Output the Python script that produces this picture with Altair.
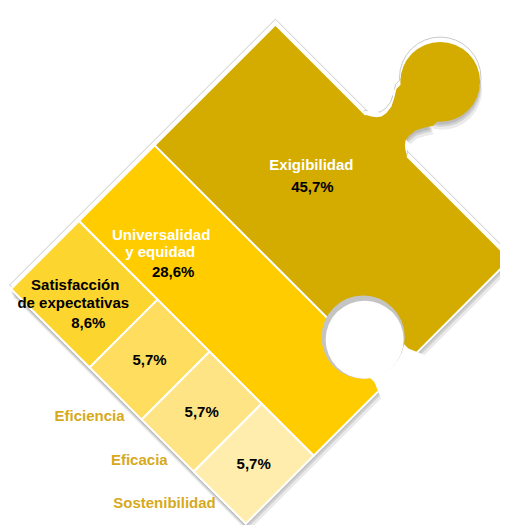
import math
import altair as alt
import pandas as pd

# ---------------- data ----------------
categories = ["Exigibilidad", "Universalidad y equidad", "Satisfacción de expectativas",
              "Eficiencia", "Eficacia", "Sostenibilidad"]
values = [45.7, 28.6, 8.6, 5.7, 5.7, 5.7]
value_labels = ["45,7%", "28,6%", "8,6%", "5,7%", "5,7%", "5,7%"]
inner_names = [["Exigibilidad"], ["Universalidad", "y equidad"],
               ["Satisfacción", "de expectativas"], [], [], []]
outer_names = ["", "", "", "Eficiencia", "Eficacia", "Sostenibilidad"]
cell_colors = ["#D4AC00", "#FFCC00", "#FDD52F", "#FFDD5E", "#FFE486", "#FFEDAD"]

# ---------------- geometry / style ----------------
W, H = 492, 517
OX, OY = 11, 289          # left corner of the rotated frame (page px)
LEN_A, LEN_B = 374, 332   # frame side lengths (up-right, down-right)
S = math.sqrt(0.5)
KNOB_DA, KNOB_B, KNOB_R = 76, 157, 45
HOLE_A, HOLE_DB, HOLE_R = 215, 49, 47
FONT = "Liberation Sans"
GOLD_TEXT = "#D7A91C"

X = alt.X("x:Q", scale=alt.Scale(domain=[8, 8 + W], nice=False, zero=False), axis=None)
Y = alt.Y("y:Q", scale=alt.Scale(domain=[8, 8 + H], nice=False, zero=False, reverse=True), axis=None)


def to_xy(a, b):
    return OX + (a + b) * S, OY + (b - a) * S


def rect_pts(a0, a1, b0, b1):
    return [(a0, b0), (a1, b0), (a1, b1), (a0, b1), (a0, b0)]


def polygon(pts, fill, stroke="white", sw=0.0, opacity=1.0, shift=(0, 0)):
    rows = []
    for k, (a, b) in enumerate(pts):
        x, y = to_xy(a, b)
        rows.append({"x": x + shift[0], "y": y + shift[1], "k": k})
    kw = dict(fill=fill, opacity=opacity, interpolate="linear")
    if sw > 0:
        kw.update(stroke=stroke, strokeWidth=sw, strokeJoin="miter")
    else:
        kw.update(stroke=fill, strokeOpacity=0)
    return alt.Chart(pd.DataFrame(rows)).mark_line(**kw).encode(X, Y, order="k:Q")


def circle(a, b, r, fill, opacity=1.0, shift=(0, 0), stroke=None, sw=0.0):
    x, y = to_xy(a, b)
    df = pd.DataFrame([{"x": x + shift[0], "y": y + shift[1]}])
    kw = dict(size=math.pi * r * r, fill=fill, opacity=opacity)
    if stroke:
        kw.update(stroke=stroke, strokeWidth=sw)
    else:
        kw.update(strokeOpacity=0)
    return alt.Chart(df).mark_circle(**kw).encode(X, Y)


def neck_poly(profile, extra=0.0):
    pts = ([(LEN_A + d, KNOB_B - w - extra) for d, w in profile]
           + [(LEN_A + d, KNOB_B + w + extra) for d, w in reversed(profile)])
    pts.append(pts[0])
    return pts


# ---------------- treemap layout (slice and dice) ----------------
total = sum(values)
left_sum = sum(values[2:])
a_left = LEN_A * left_sum / total
a_mid = a_left + LEN_A * values[1] / total
cells = [(a_mid, LEN_A, 0, LEN_B), (a_left, a_mid, 0, LEN_B)]
bb = 0.0
for v in values[2:]:
    h = LEN_B * v / left_sum
    cells.append((0, a_left, bb, bb + h))
    bb += h

knob_a = LEN_A + KNOB_DA
hole_b = LEN_B - HOLE_DB
body = rect_pts(0, LEN_A, 0, LEN_B)
# neck profile of the tab: (distance beyond the edge, half width)
neck_profile = [(-6, 31), (0, 29), (3, 24), (6, 20), (10, 17), (16, 16), (24, 17),
                (32, 21), (40, 26), (KNOB_DA, 26)]
neck = neck_poly(neck_profile)
shadow_neck = neck_poly([(0, 29), (3, 24), (6, 20), (10, 17), (16, 16), (24, 17),
                         (32, 21), (39, 25.5)])
hole_neck = [(HOLE_A - 24, hole_b), (HOLE_A + 24, hole_b), (HOLE_A + 24, LEN_B - 9),
             (HOLE_A + 32, LEN_B + 10), (HOLE_A - 32, LEN_B + 10), (HOLE_A - 24, LEN_B - 9),
             (HOLE_A - 24, hole_b)]

layers = []
# drop shadow
for sh, op in [((0, 3), 0.22), ((1, 5), 0.2), ((2, 8), 0.14)]:
    layers.append(polygon(body, "#707070", opacity=op, shift=sh))
    layers.append(polygon(shadow_neck, "#707070", opacity=op, shift=sh))
    layers.append(circle(knob_a, KNOB_B, KNOB_R, "#707070", opacity=op, shift=sh))
# white rim with thin grey edge (lit side)
rim_shift = (0, -4)
layers.append(polygon(rect_pts(-1, LEN_A + 1, -1, LEN_B + 1), "white", stroke="#c9c9c9", sw=1, shift=rim_shift))
layers.append(circle(knob_a, KNOB_B, KNOB_R + 1, "white", shift=rim_shift, stroke="#c9c9c9", sw=1))
layers.append(polygon(neck_poly(neck_profile, 1), "white", stroke="#c9c9c9", sw=1, shift=rim_shift))
layers.append(polygon(rect_pts(LEN_A - 12, LEN_A + 8, KNOB_B - 28, KNOB_B + 28), "white", shift=rim_shift))
layers.append(polygon(rect_pts(LEN_A + 30, knob_a, KNOB_B - 24, KNOB_B + 24), "white", shift=rim_shift))
# cells
for i, c in enumerate(cells):
    layers.append(polygon(rect_pts(*c), cell_colors[i], stroke="white", sw=2))
# tab
layers.append(polygon(neck, cell_colors[0]))
layers.append(circle(knob_a, KNOB_B, KNOB_R, cell_colors[0]))
# hole
layers.append(polygon(hole_neck, "white"))
layers.append(circle(HOLE_A, hole_b, HOLE_R, "#c4c4c4"))
layers.append(circle(HOLE_A, hole_b, HOLE_R - 3, "white", shift=(1.5, 2.6)))

# ---------------- labels ----------------
inner_offsets = [
    [(-21, -37), (-20, -15)],
    [(-73, -66), (-74, -49), (-61, -29)],
    [(-9, -9), (-11, 9), (4, 29)],
    [(0, 0)], [(0, 0)], [(0, 0)],
]
outer_offsets = [None, None, None, (9, 22), (0, 14), (-4, 5)]
name_colors = ["white", "white", "black"]
rows = []
for i, c in enumerate(cells):
    cx, cy = to_xy((c[0] + c[1]) / 2, (c[2] + c[3]) / 2)
    lines = inner_names[i] + [value_labels[i]]
    for j, t in enumerate(lines):
        dx, dy = inner_offsets[i][j]
        col = "black" if j == len(lines) - 1 else name_colors[i]
        rows.append({"x": cx + dx, "y": cy + dy, "t": t, "c": col, "al": "center"})
    if outer_names[i]:
        ex, ey = to_xy(0, (c[2] + c[3]) / 2)
        ox, oy = outer_offsets[i]
        rows.append({"x": ex + ox, "y": ey + oy, "t": outer_names[i], "c": GOLD_TEXT, "al": "right"})

tdf = pd.DataFrame(rows)
for al in ["center", "right"]:
    sub = tdf[tdf["al"] == al]
    layers.append(
        alt.Chart(sub).mark_text(font=FONT, fontSize=15, fontWeight="bold", align=al, baseline="middle")
        .encode(X, Y, text="t:N", color=alt.Color("c:N", scale=None))
    )

chart = alt.layer(*layers).properties(
    width=W, height=H, padding=0, autosize=alt.AutoSizeParams(type="none")
).configure_view(strokeWidth=0)

chart.save("out.html", embed_options={"renderer": "svg", "actions": False})
